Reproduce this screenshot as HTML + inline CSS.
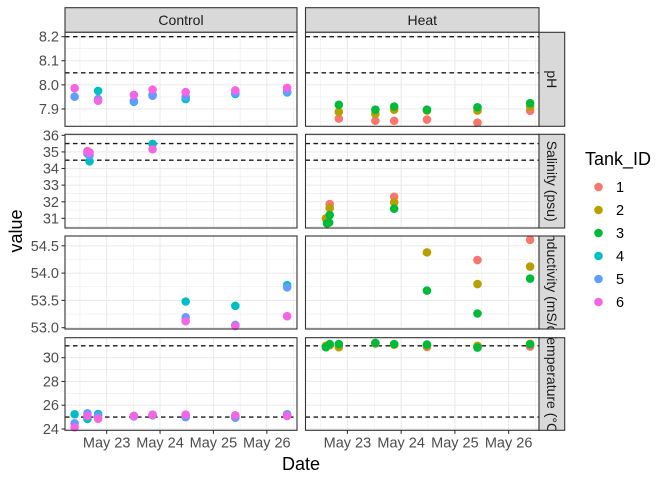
<!DOCTYPE html>
<html><head><meta charset="utf-8"><style>
html,body{margin:0;padding:0;background:#fff;}
svg{display:block;font-family:"Liberation Sans",sans-serif;}
</style></head><body>
<svg id="chart" width="672" height="480" viewBox="0 0 672 480"></svg>
<script>
// ---- data (day = fractional day of May) ----
const tankIds = ["1","2","3","4","5","6"];
const tankColors = ["#F8766D","#B79F00","#00BA38","#00BFC4","#619CFF","#F564E3"];
const xTickLabels = ["May 23","May 24","May 25","May 26"];
const xTickDays = [23,24,25,26];
const facetCols = ["Control","Heat"];
const facetRows = ["pH","Salinity (psu)","Conductivity (mS/cm)","Temperature (°C)"];

const phCtrlDay  = [22.4,22.4, 22.84,22.84,22.84, 23.51,23.51,23.51, 23.86,23.86,23.86, 24.48,24.48,24.48, 25.41,25.41,25.41, 26.38,26.38,26.38];
const phCtrlTank = [5,6, 4,5,6, 4,5,6, 4,5,6, 4,5,6, 4,5,6, 4,5,6];
const phCtrlVal  = [7.951,7.986, 7.975,7.941,7.934, 7.930,7.933,7.958, 7.958,7.955,7.980, 7.941,7.950,7.970, 7.962,7.967,7.977, 7.969,7.972,7.987];
const phHeatDay  = [22.84,22.84,22.84, 23.52,23.52,23.52, 23.87,23.87,23.87, 24.48,24.48,24.48, 25.42,25.42,25.42, 26.40,26.40,26.40];
const phHeatTank = [1,2,3, 1,2,3, 1,2,3, 1,2,3, 1,2,3, 1,2,3];
const phHeatVal  = [7.860,7.888,7.917, 7.851,7.879,7.897, 7.851,7.897,7.910, 7.856,7.893,7.897, 7.843,7.893,7.907, 7.892,7.910,7.924];

const salCtrlDay  = [22.64,22.64, 22.68,22.68,22.68, 23.86,23.86];
const salCtrlTank = [5,6, 4,5,6, 4,6];
const salCtrlVal  = [34.90,35.05, 34.43,34.80,34.97, 35.48,35.16];
const salHeatDay  = [22.62,22.60,22.62, 22.67,22.67,22.67,22.66, 23.87,23.87,23.87];
const salHeatTank = [1,2,3, 1,2,3,3, 1,2,3];
const salHeatVal  = [31.02,31.00,30.70, 31.86,31.62,31.20,30.75, 32.30,31.96,31.58];

const condCtrlDay  = [24.48,24.48,24.48, 25.41,25.41,25.41, 26.38,26.38,26.38];
const condCtrlTank = [4,5,6, 4,5,6, 4,5,6];
const condCtrlVal  = [53.48,53.19,53.12, 53.40,53.05,53.03, 53.78,53.74,53.21];
const condHeatDay  = [24.48,24.48, 25.42,25.42,25.42, 26.40,26.40,26.40];
const condHeatTank = [2,3, 1,2,3, 1,2,3];
const condHeatVal  = [54.38,53.68, 54.24,53.80,53.26, 54.61,54.12,53.90];

const tempCtrlDay  = [22.4,22.4,22.4, 22.64,22.64,22.64, 22.84,22.84,22.84, 23.51,23.51,23.51, 23.86,23.86,23.86, 24.48,24.48,24.48, 25.41,25.41,25.41, 26.38,26.38,26.38];
const tempCtrlTank = [4,5,6, 4,5,6, 4,5,6, 4,5,6, 4,5,6, 4,5,6, 4,5,6, 4,5,6];
const tempCtrlVal  = [25.24,24.48,24.14, 24.84,25.32,25.10, 25.26,25.10,24.87, 25.10,25.05,25.10, 25.18,25.15,25.20, 25.10,25.00,25.20, 25.05,24.95,25.15, 25.15,25.25,25.10];
const tempHeatDay  = [22.60,22.60,22.60, 22.67,22.67,22.67, 22.84,22.84,22.84, 23.52,23.52,23.52, 23.87,23.87,23.87, 24.48,24.48,24.48, 25.42,25.42,25.42, 26.40,26.40,26.40];
const tempHeatTank = [1,2,3, 1,2,3, 1,2,3, 1,2,3, 1,2,3, 1,2,3, 1,2,3, 1,2,3];
const tempHeatVal  = [30.95,31.00,30.88, 31.10,31.05,31.15, 31.00,30.88,31.15, 31.20,31.20,31.24, 31.10,31.10,31.15, 30.90,31.00,31.10, 30.95,31.00,30.85, 30.93,31.17,31.13];

const phTicks = [7.9,8.0,8.1,8.2];
const phTickLabels = ["7.9","8.0","8.1","8.2"];
const salTicks = [31,32,33,34,35,36];
const condTicks = [53.0,53.5,54.0,54.5];
const condTickLabels = ["53.0","53.5","54.0","54.5"];
const tempTicks = [24,26,28,30];
const phRefLines = [8.2,8.05];
const salRefLines = [35.5,34.5];
const tempRefLines = [31,25];

// ---- layout ----
const NS = "http://www.w3.org/2000/svg";
const svg = document.getElementById("chart");
function mk(tag, attrs, parent){const e=document.createElementNS(NS,tag);for(const k in attrs)e.setAttribute(k,attrs[k]);(parent||svg).appendChild(e);return e;}

const colX = [[65,297],[305.5,539]];
const rowY = [[32.3,126.3],[134.3,228],[236,329],[337.7,430.3]];
const xDom = [22.22,26.565];
const rows = [
 {dom:[7.828,8.218], ticks:phTicks, labels:phTickLabels, minorStep:0.1, ref:phRefLines,
  data:[[phCtrlDay,phCtrlTank,phCtrlVal],[phHeatDay,phHeatTank,phHeatVal]]},
 {dom:[30.42,36.06], ticks:salTicks, labels:salTicks.map(String), minorStep:1, ref:salRefLines,
  data:[[salCtrlDay,salCtrlTank,salCtrlVal],[salHeatDay,salHeatTank,salHeatVal]]},
 {dom:[52.976,54.68], ticks:condTicks, labels:condTickLabels, minorStep:0.5, ref:[],
  data:[[condCtrlDay,condCtrlTank,condCtrlVal],[condHeatDay,condHeatTank,condHeatVal]]},
 {dom:[23.89,31.68], ticks:tempTicks, labels:tempTicks.map(String), minorStep:2, ref:tempRefLines,
  data:[[tempCtrlDay,tempCtrlTank,tempCtrlVal],[tempHeatDay,tempHeatTank,tempHeatVal]]}
];
function xs(c,d){const [a,b]=colX[c];return a+(d-xDom[0])/(xDom[1]-xDom[0])*(b-a);}
function ys(r,v){const [t,bt]=rowY[r];const [lo,hi]=rows[r].dom;return bt-(v-lo)/(hi-lo)*(bt-t);}

const defs = mk("defs",{});
rows.forEach((row,r)=>{
  const cp=mk("clipPath",{id:"rs"+r},defs);
  mk("rect",{x:539,y:rowY[r][0],width:25.7,height:rowY[r][1]-rowY[r][0]},cp);
});

facetCols.forEach((name,c)=>{
  const g=mk("g",{});
  
  
  mk("rect",{x:colX[c][0],y:7.7,width:colX[c][1]-colX[c][0],height:24.6,fill:"#d9d9d9",stroke:"#333333","stroke-width":1.1},g);
  const t=mk("text",{x:(colX[c][0]+colX[c][1])/2,y:25,"text-anchor":"middle","font-size":14,fill:"#1a1a1a"},g);
  t.textContent=name;
});

rows.forEach((row,r)=>{
  const [top,bot]=rowY[r];
  row.ticks.forEach((v,i)=>{
    const y=ys(r,v);
    const t=mk("text",{x:59,y:y+5,"text-anchor":"end","font-size":14.5,fill:"#4d4d4d"});
    
    
    t.textContent=row.labels[i];
    mk("line",{x1:61.5,x2:65,y1:y,y2:y,stroke:"#333",'stroke-width':1.1});
  });
  colX.forEach((cx,c)=>{
    const g=mk("g",{});
    
    
    mk("rect",{x:cx[0],y:top,width:cx[1]-cx[0],height:bot-top,fill:"#fff"},g);
    const first=row.ticks[0], step=row.minorStep;
    for(let v=first-step*1.5; v<=row.dom[1]+step; v+=step){
      if(v<row.dom[0]||v>row.dom[1])continue;
      const y=ys(r,v);mk("line",{x1:cx[0],x2:cx[1],y1:y,y2:y,stroke:"#ebebeb","stroke-width":0.55},g);
    }
    for(let d=22.5; d<=26.5; d+=1){const x=xs(c,d);mk("line",{x1:x,x2:x,y1:top,y2:bot,stroke:"#ebebeb","stroke-width":0.55},g);}
    row.ticks.forEach(v=>{const y=ys(r,v);mk("line",{x1:cx[0],x2:cx[1],y1:y,y2:y,stroke:"#ebebeb","stroke-width":1.1},g);});
    xTickDays.forEach(d=>{const x=xs(c,d);mk("line",{x1:x,x2:x,y1:top,y2:bot,stroke:"#ebebeb","stroke-width":1.1},g);});
    row.ref.forEach(v=>{
      const y=ys(r,v);
      const l=mk("line",{x1:cx[0],x2:cx[1],y1:y,y2:y,stroke:"#1a1a1a","stroke-width":1.4,"stroke-dasharray":"4.5,3.5"},g);
      
      
    });
    const [days,tanks,vals]=row.data[c];
    const order=days.map((d,i)=>i).sort((a,b)=>tanks[a]-tanks[b]);
    order.forEach(i=>{
      const p=mk("circle",{cx:xs(c,days[i]),cy:ys(r,vals[i]),r:4.3,fill:tankColors[tanks[i]-1]},g);
      
      
    });
    mk("rect",{x:cx[0],y:top,width:cx[1]-cx[0],height:bot-top,fill:"none",stroke:"#333333","stroke-width":1.1},g);
  });
  const sg=mk("g",{});
  
  
  mk("rect",{x:539,y:top,width:25.7,height:bot-top,fill:"#d9d9d9",stroke:"#333333","stroke-width":1.1},sg);
  const cg=mk("g",{"clip-path":"url(#rs"+r+")"},sg);
  const cy=(top+bot)/2;
  const t=mk("text",{x:0,y:0,"text-anchor":"middle","font-size":14,fill:"#1a1a1a",transform:"translate(547,"+cy+") rotate(90)"},cg);
  t.textContent=facetRows[r];
});

colX.forEach((cx,c)=>{
  xTickDays.forEach((d,i)=>{
    const x=xs(c,d);
    mk("line",{x1:x,x2:x,y1:430.3,y2:433.8,stroke:"#333","stroke-width":1.1});
    const t=mk("text",{x:x,y:447.5,"text-anchor":"middle","font-size":14.5,fill:"#4d4d4d"});
    
    
    t.textContent=xTickLabels[i];
  });
});

const xt=mk("text",{x:301,y:470,"text-anchor":"middle","font-size":18,fill:"#000"});


xt.textContent="Date";
const yt=mk("text",{x:0,y:0,"text-anchor":"middle","font-size":18,fill:"#000",transform:"translate(22,231) rotate(-90)"});


yt.textContent="value";

const lg=mk("g",{});


const lt=mk("text",{x:585,y:165,"font-size":18,fill:"#000"},lg);
lt.textContent="Tank_ID";
tankIds.forEach((id,i)=>{
  const y=187+i*23;
  const e=mk("g",{},lg);
  
  
  mk("circle",{cx:598.5,cy:y,r:4.3,fill:tankColors[i]},e);
  const t=mk("text",{x:616,y:y+5,"font-size":14.5,fill:"#000"},e);
  t.textContent=id;
});
</script>
</body></html>
